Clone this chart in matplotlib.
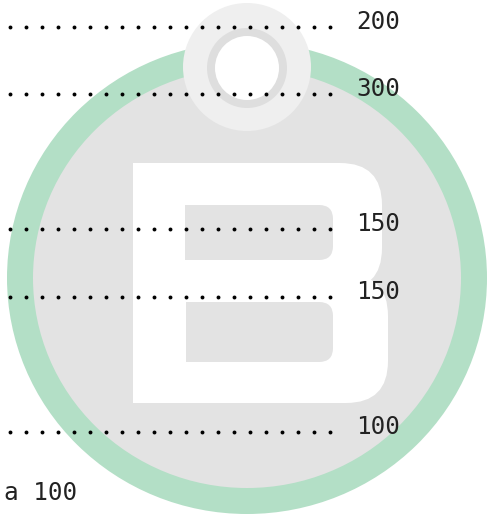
import numpy as np
import matplotlib
matplotlib.use('Agg')
import matplotlib.pyplot as plt
from matplotlib.patches import Circle, Ellipse, FancyBboxPatch, Rectangle

W, H = 492, 514

values = [200, 300, 150, 150, 100]
last_label = 'a 100'

# line positions (pixels from top)
row_y = [27, 94, 229, 297, 432]
last_y = 493

fig = plt.figure(figsize=(W / 100, H / 100), dpi=100)
ax = fig.add_axes([0, 0, 1, 1])
ax.set_xlim(0, W)
ax.set_ylim(H, 0)
ax.axis('off')

# watermark
ax.add_patch(Ellipse((247, 278), 480, 472, color='#b3dfc6', lw=0))
ax.add_patch(Ellipse((247, 278), 428, 420, color='#e3e3e3', lw=0))

# the B
def rbox(x0, y0, x1, y1, r, c):
	ax.add_patch(FancyBboxPatch((x0 + r, y0 + r), x1 - x0 - 2 * r, y1 - y0 - 2 * r,
		boxstyle='round,pad=%d' % r, color=c, lw=0))

rbox(133, 163, 382, 290, 42, 'white')
rbox(133, 274, 388, 403, 42, 'white')
ax.add_patch(Rectangle((133, 163), 60, 240, color='white', lw=0))
rbox(185, 205, 333, 260, 14, '#e3e3e3')
ax.add_patch(Rectangle((185, 205), 40, 55, color='#e3e3e3', lw=0))
rbox(186, 302, 333, 362, 14, '#e3e3e3')
ax.add_patch(Rectangle((186, 302), 40, 60, color='#e3e3e3', lw=0))

# top ring
ax.add_patch(Circle((247, 67), 64, color='#efefef', lw=0))
ax.add_patch(Circle((247, 68), 40, color='#dedede', lw=0))
ax.add_patch(Circle((247, 68), 32, color='white', lw=0))

# leader dots and numbers
dots_x = np.arange(10, 333, 16)
for v, y in zip(values, row_y):
	ax.plot(dots_x, [y] * len(dots_x), 'o', ms=2.8, color='black', mew=0)
	ax.text(356, y - 5, str(v), fontsize=17.5, family='DejaVu Sans Mono',
		color='#222222', va='center', ha='left')

ax.text(4, last_y, last_label, fontsize=17.5, family='DejaVu Sans Mono',
	color='#222222', va='center', ha='left')

fig.savefig('out.png', dpi=100)
